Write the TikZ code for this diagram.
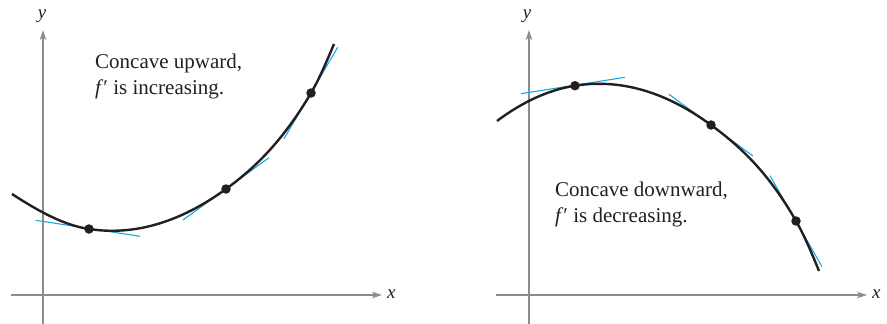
\documentclass[tikz,border=0pt]{standalone}
\usepackage{fontspec}
\setmainfont{Liberation Serif}
\usetikzlibrary{arrows.meta}
\definecolor{ink}{HTML}{231F20}
\definecolor{axisgray}{HTML}{8C8C8C}
\definecolor{tancyan}{HTML}{1AA7E0}
\begin{document}
\begin{tikzpicture}[x=1pt,y=-1pt,
 axis/.style={draw=axisgray,line width=1.3pt,-{Stealth[length=10pt,width=6.5pt,inset=2.5pt]}},
 curve/.style={draw=ink,line width=2.4pt},
 tangent/.style={draw=tancyan,line width=1.1pt},
 dot/.style={circle,fill=ink,inner sep=0pt,minimum size=9.5pt},
 lab/.style={font=\fontsize{19}{22}\selectfont\itshape,text=ink,inner sep=0pt},
 note/.style={font=\fontsize{21}{26}\selectfont,text=ink,align=left,inner sep=0pt}]
\useasboundingbox (0,0) rectangle (887,324);

% ---------- left panel ----------
\coordinate (xl0) at (11,295);
\coordinate (xl1) at (382,295);
\coordinate (yl0) at (43,324);
\coordinate (yl1) at (43,30);
\draw[axis] (xl0) -- (xl1);
\draw[axis] (yl0) -- (yl1);
\node[lab,anchor=base west] (xlabL) at (387,298) {x};
\node[lab,anchor=base] (ylabL) at (42,19) {y};

\coordinate (lt1a) at (35.7,220.3);
\coordinate (lt1b) at (140,236.3);
\coordinate (lt2a) at (183,220);
\coordinate (lt2b) at (269,157.7);
\coordinate (lt3a) at (284,138.7);
\coordinate (lt3b) at (337.7,47.3);
\draw[tangent] (lt1a) -- (lt1b);
\draw[tangent] (lt2a) -- (lt2b);
\draw[tangent] (lt3a) -- (lt3b);

\coordinate (ls) at (12,194);
\coordinate (lp1) at (89,229);
\coordinate (lp2) at (226,189);
\coordinate (lp3) at (311,93);
\coordinate (le) at (334,44);
\draw[curve] (ls) .. controls (37.7,210.7) and (63.3,225.1) .. (lp1)
  .. controls (134.7,236) and (180.3,222.1) .. (lp2)
  .. controls (254.3,168.5) and (282.7,141.2) .. (lp3)
  .. controls (318.7,80) and (326.3,62.4) .. (le);
\node[dot] (ld1) at (lp1) {};
\node[dot] (ld2) at (lp2) {};
\node[dot] (ld3) at (lp3) {};

\node[note,anchor=base west] (ltext) at (95,94) {Concave upward,\\\textit{f}′ is increasing.};

% ---------- right panel ----------
\coordinate (xr0) at (496,295);
\coordinate (xr1) at (867,295);
\coordinate (yr0) at (529,324);
\coordinate (yr1) at (529,30);
\draw[axis] (xr0) -- (xr1);
\draw[axis] (yr0) -- (yr1);
\node[lab,anchor=base west] (xlabR) at (872,298) {x};
\node[lab,anchor=base] (ylabR) at (527,19) {y};

\coordinate (rt1a) at (521,93.7);
\coordinate (rt1b) at (625,77.3);
\coordinate (rt2a) at (669,94.3);
\coordinate (rt2b) at (753,156);
\coordinate (rt3a) at (770,175.7);
\coordinate (rt3b) at (822,266.7);
\draw[tangent] (rt1a) -- (rt1b);
\draw[tangent] (rt2a) -- (rt2b);
\draw[tangent] (rt3a) -- (rt3b);

\coordinate (rs) at (497,121);
\coordinate (rp1) at (575,85.7);
\coordinate (rp2) at (711,125);
\coordinate (rp3) at (796,221);
\coordinate (re) at (819,271);
\draw[curve] (rs) .. controls (523,101.5) and (549,89.8) .. (rp1)
  .. controls (620.3,78.5) and (665.7,91.7) .. (rp2)
  .. controls (739.3,145.8) and (767.7,171.4) .. (rp3)
  .. controls (803.7,234.4) and (811.3,251.8) .. (re);
\node[dot] (rd1) at (rp1) {};
\node[dot] (rd2) at (rp2) {};
\node[dot] (rd3) at (rp3) {};

\node[note,anchor=base west] (rtext) at (555,222) {Concave downward,\\\textit{f}′ is decreasing.};
\end{tikzpicture}
\end{document}
